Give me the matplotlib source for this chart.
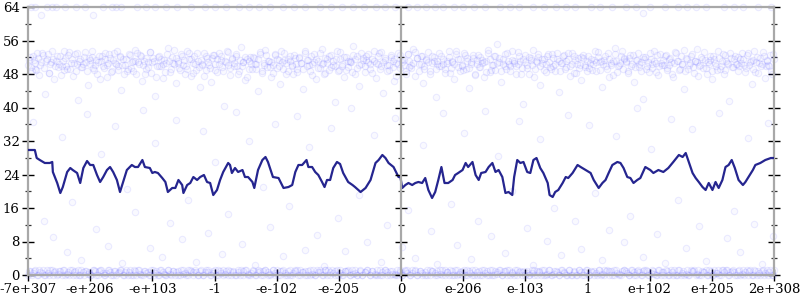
import matplotlib
matplotlib.use("Agg")
import matplotlib.pyplot as plt
import numpy as np
from matplotlib.ticker import MultipleLocator

# ---------------- data ----------------
tick_positions = [0, 100, 200, 300, 400, 500, 600, 700, 800, 900, 1000, 1100, 1200]
tick_labels = ["-7e+307", "-e+206", "-e+103", "-1", "-e-102", "-e-205", "0",
               "e-206", "e-103", "1", "e+102", "e+205", "2e+308"]

line_x = [0, 11, 14, 19, 27, 35, 39, 40, 47, 52, 56, 63, 68, 72, 79, 84, 89, 95, 100, 105,
          111, 116, 121, 127, 132, 137, 143, 148, 153, 159, 167, 172, 177, 184, 188, 196, 200, 204, 209, 216,
          221, 225, 232, 237, 242, 248, 250, 256, 261, 266, 272, 277, 283, 288, 293, 298, 304, 309, 314, 322,
          325, 328, 333, 338, 345, 349, 354, 361, 364, 370, 377, 382, 386, 394, 403, 411, 419, 425, 430, 435,
          441, 448, 451, 457, 462, 467, 473, 477, 481, 486, 491, 497, 502, 507, 515, 522, 526, 535, 543, 551,
          559, 564, 570, 575, 580, 588, 596, 599, 602, 607, 612, 618, 623, 628, 634, 639, 644, 650, 655, 660,
          665, 670, 676, 683, 687, 692, 699, 704, 708, 715, 720, 725, 729, 736, 741, 747, 752, 757, 763, 768,
          773, 779, 782, 787, 792, 797, 803, 808, 813, 818, 824, 829, 836, 839, 844, 848, 853, 860, 865, 869,
          876, 884, 889, 897, 905, 910, 918, 924, 929, 934, 940, 948, 953, 958, 964, 969, 974, 980, 985, 993,
          1001, 1006, 1014, 1022, 1030, 1038, 1047, 1053, 1058, 1063, 1069, 1074, 1079, 1085, 1090, 1095, 1101, 1106, 1111, 1117,
          1122, 1127, 1132, 1137, 1143, 1150, 1154, 1159, 1166, 1170, 1178, 1186, 1195, 1200]
line_y = [29.85, 29.85, 27.94, 27.46, 26.75, 26.75, 26.99, 24.60, 21.97, 19.58, 21.01, 24.60, 25.55, 25.07, 24.36, 21.97, 25.55, 27.22, 26.27, 26.27,
          23.88, 22.21, 23.40, 25.07, 25.79, 24.60, 22.69, 19.82, 22.21, 25.07, 26.27, 25.79, 25.79, 27.46, 25.79, 25.55, 24.36, 24.60, 24.36, 23.16,
          22.21, 19.82, 20.78, 20.78, 22.69, 21.49, 19.58, 21.49, 21.97, 23.40, 22.69, 23.40, 23.88, 22.21, 21.97, 19.10, 20.30, 22.69, 24.60, 26.75,
          26.27, 24.36, 25.55, 24.60, 25.07, 23.40, 23.40, 22.21, 20.78, 25.07, 27.46, 28.18, 26.99, 23.40, 23.16, 20.78, 21.01, 21.49, 24.60, 26.27,
          26.27, 27.46, 25.79, 25.79, 24.60, 23.88, 22.21, 21.01, 22.69, 22.69, 25.55, 26.99, 26.51, 24.36, 22.21, 21.49, 21.01, 19.82, 20.78, 22.69,
          26.75, 27.46, 28.66, 27.94, 26.75, 25.79, 23.40, 23.40, 20.78, 21.49, 21.97, 21.49, 21.97, 22.21, 21.97, 23.16, 20.30, 18.39, 19.82, 22.69,
          25.79, 21.97, 21.97, 22.69, 23.88, 24.36, 25.07, 26.75, 25.79, 26.99, 23.88, 22.69, 24.36, 24.60, 25.79, 26.75, 24.60, 25.07, 23.40, 19.58,
          19.82, 19.10, 23.40, 27.46, 26.75, 26.99, 24.60, 24.36, 27.46, 27.94, 25.55, 24.36, 21.97, 19.10, 18.63, 19.82, 20.30, 21.97, 23.40, 23.16,
          24.36, 26.27, 25.79, 25.07, 24.36, 22.69, 20.78, 21.97, 22.69, 24.36, 26.27, 26.99, 26.75, 25.55, 23.40, 23.16, 21.97, 22.69, 23.16, 25.79,
          25.07, 24.36, 25.07, 24.60, 25.55, 26.99, 28.66, 28.18, 29.13, 26.99, 24.36, 23.16, 22.21, 21.01, 20.30, 21.97, 20.30, 22.21, 20.78, 22.69,
          25.79, 26.27, 27.46, 25.55, 22.69, 21.49, 22.21, 23.40, 25.07, 26.27, 26.75, 27.46, 27.94, 27.94]

cloud_y = [
    50.2, 52.1, 48.7, 51.4, 49.3, 53.0, 47.8, 50.9, 52.6, 43.2, 51.7, 48.2, 50.5, 53.4, 46.9, 51.1, 49.6, 52.3, 50.0, 48.9,
    51.9, 49.1, 53.2, 50.7, 47.5, 52.8, 50.3, 41.8, 51.6, 49.7, 52.0, 50.8, 45.3, 51.3, 53.6, 49.4, 50.1, 48.0, 52.4, 51.0,
    49.8, 52.9, 47.2, 50.6, 51.8, 48.6, 53.1, 50.4, 49.0, 52.2, 44.1, 51.5, 50.2, 48.8, 52.7, 49.5, 51.2, 53.8, 47.9, 50.8,
    52.5, 46.4, 51.1, 49.2, 50.9, 53.3, 48.3, 51.9, 42.7, 50.0, 52.3, 49.9, 47.0, 51.4, 50.6, 54.1, 48.5, 52.0, 50.3, 45.8,
    51.2, 49.4, 52.8, 50.1, 48.1, 53.5, 51.6, 47.6, 50.7, 52.2, 49.0, 51.0, 44.9, 50.4, 53.0, 48.9, 51.8, 50.2, 46.2, 52.6,
    50.5, 48.4, 52.9, 51.3, 49.6, 40.3, 50.9, 53.2, 47.7, 51.5, 49.8, 52.4, 50.0, 48.6, 54.4, 50.8, 46.6, 51.7, 49.3, 52.1,
    49.1, 51.9, 50.3, 43.9, 52.7, 48.2, 50.6, 53.7, 49.7, 51.1, 47.3, 50.2, 52.5, 49.5, 51.4, 45.6, 50.9, 53.1, 48.0, 51.6,
    52.3, 50.1, 47.9, 51.8, 49.2, 52.0, 50.7, 44.5, 53.4, 49.9, 51.3, 48.7, 50.4, 52.8, 46.8, 51.0, 49.4, 53.9, 50.6, 48.3,
    51.5, 49.0, 52.6, 50.2, 41.2, 51.7, 48.8, 53.3, 50.0, 47.4, 52.1, 49.6, 51.2, 50.8, 54.6, 48.1, 52.4, 45.1, 50.5, 51.9,
    48.5, 52.2, 50.9, 49.3, 51.6, 53.6, 47.1, 50.3, 52.9, 49.8, 43.4, 51.4, 50.1, 48.9, 52.5, 51.1, 46.3, 50.7, 53.0, 49.5,
    50.8, 51.3, 48.0, 52.7, 49.7, 50.2, 54.0, 47.6, 51.8, 50.4, 52.3, 45.9, 49.1, 51.5, 53.2, 48.6, 50.6, 52.0, 42.4, 51.0,
    49.9, 52.4, 50.5, 48.2, 51.1, 53.5, 49.4, 50.9, 46.7, 52.8, 51.6, 48.8, 50.0, 53.1, 49.2, 51.9, 44.7, 50.3, 52.6, 47.8,
    51.4, 49.6, 52.1, 50.7, 47.3, 51.2, 53.7, 48.4, 50.1, 52.2, 49.0, 55.1, 50.8, 46.1, 51.7, 49.8, 52.9, 50.4, 48.7, 51.3,
    50.6, 48.1, 53.3, 51.0, 49.5, 40.9, 52.5, 50.2, 47.9, 51.8, 53.8, 49.3, 50.9, 52.0, 45.4, 51.5, 48.9, 50.3, 52.7, 49.7,
    52.8, 50.0, 48.6, 51.6, 43.6, 50.7, 52.3, 49.1, 51.1, 53.0, 47.5, 50.5, 52.4, 48.3, 51.9, 50.1, 46.5, 52.6, 49.6, 51.2,
    49.4, 51.7, 50.3, 53.4, 48.8, 52.0, 50.8, 45.0, 51.4, 49.9, 52.9, 47.2, 50.6, 51.0, 54.3, 48.5, 50.2, 52.2, 49.2, 51.8,
    51.1, 48.7, 52.5, 50.4, 46.0, 51.3, 53.1, 49.7, 50.9, 42.1, 52.1, 50.0, 48.4, 51.6, 49.5, 53.5, 50.7, 47.7, 52.8, 50.2,
    50.1, 52.6, 49.0, 51.5, 50.8, 47.4, 53.2, 51.0, 48.9, 52.3, 50.5, 44.3, 51.9, 49.3, 50.6, 52.7, 48.2, 51.2, 53.9, 49.8,
    52.0, 49.5, 51.4, 48.0, 50.3, 52.4, 46.7, 51.7, 50.0, 53.6, 49.1, 51.1, 47.9, 52.5, 50.7, 41.5, 51.8, 49.7, 52.2, 50.4,
    48.8, 51.6, 53.0, 50.2, 49.4, 52.9, 50.9, 45.7, 51.3, 48.5, 52.1, 50.6, 49.9, 53.3, 47.0, 51.0, 50.1, 52.6, 48.1, 51.5,
]

cloud2_y = [
    51.3, 49.7, 52.4, 50.6, 48.9, 51.8, 50.2, 53.1, 49.4, 51.0, 52.7, 48.3, 50.8, 51.6, 49.9, 52.2, 50.4, 47.8, 51.2, 53.4,
    50.0, 52.6, 49.2, 51.5, 50.7, 48.6, 52.9, 51.1, 49.6, 50.3, 53.2, 48.8, 51.9, 50.5, 52.0, 49.0, 51.4, 50.9, 46.8, 52.3,
    49.5, 51.7, 50.1, 52.8, 48.4, 51.3, 50.6, 53.5, 49.8, 52.1, 50.2, 47.9, 51.6, 49.3, 52.5, 50.8, 48.7, 51.0, 53.0, 50.4,
    52.4, 50.2, 48.1, 51.9, 49.6, 53.3, 50.9, 51.2, 47.4, 52.0, 49.9, 51.5, 50.3, 48.5, 52.7, 51.1, 49.1, 50.6, 53.7, 51.8,
    50.7, 48.9, 52.2, 51.4, 50.0, 49.2, 53.0, 51.7, 48.2, 50.5, 52.9, 49.7, 51.3, 50.1, 47.6, 52.4, 50.8, 49.4, 51.9, 52.6,
    49.0, 51.6, 50.4, 52.3, 48.7, 51.1, 53.4, 50.2, 49.5, 51.8, 50.6, 52.8, 48.0, 51.4, 49.8, 50.9, 52.1, 47.2, 51.0, 50.3,
    52.0, 50.5, 49.3, 51.7, 53.2, 48.6, 50.1, 52.5, 51.2, 49.6, 50.8, 48.3, 52.7, 51.5, 50.0, 53.6, 49.1, 51.3, 50.7, 48.8,
    51.1, 49.9, 52.6, 50.3, 48.5, 51.9, 50.6, 49.2, 53.1, 51.4, 50.2, 52.2, 47.7, 50.9, 51.6, 49.4, 52.9, 50.4, 48.1, 51.8,
    50.6, 52.4, 49.7, 51.0, 50.0, 53.5, 48.9, 51.5, 50.3, 52.1, 49.0, 51.2, 50.8, 48.4, 52.6, 51.7, 49.5, 50.1, 53.0, 51.3,
    49.8, 51.4, 52.8, 50.5, 48.2, 51.1, 50.7, 52.3, 49.3, 53.3, 50.9, 51.8, 48.7, 50.2, 52.0, 49.6, 51.5, 47.5, 50.4, 52.5,
    51.6, 50.1, 48.8, 52.7, 51.0, 49.4, 50.6, 53.2, 51.9, 48.6, 50.3, 52.2, 49.9, 51.3, 50.8, 47.9, 52.4, 51.1, 49.2, 50.5,
    52.9, 50.0, 51.7, 49.1, 50.7, 52.1, 48.3, 51.2, 50.4, 53.4, 49.7, 51.5, 50.2, 48.9, 52.6, 51.0, 49.5, 50.9, 51.8, 48.0,
    50.3, 52.5, 49.6, 51.3, 50.8, 48.4, 53.1, 51.6, 49.0, 50.1, 52.3, 50.6, 51.9, 48.7, 50.4, 52.8, 49.3, 51.1, 50.0, 53.6,
    51.2, 49.8, 50.5, 52.4, 48.1, 51.7, 50.9, 49.4, 52.0, 51.4, 50.2, 47.3, 51.0, 52.7, 49.9, 50.6, 51.5, 48.5, 52.2, 50.8,
    49.2, 51.9, 50.3, 53.0, 51.1, 48.8, 50.7, 52.6, 49.7, 51.6, 50.0, 52.9, 48.2, 51.3, 50.4, 49.5, 52.1, 51.8, 50.1, 48.6,
    52.3, 50.6, 49.0, 51.4, 50.9, 53.3, 48.9, 51.0, 50.5, 52.4, 49.3, 51.7, 50.2, 47.8, 52.8, 51.2, 49.8, 50.7, 53.5, 51.5,
    50.8, 48.3, 51.8, 50.0, 52.5, 49.6, 51.3, 50.4, 48.7, 52.0, 51.6, 49.1, 50.9, 53.1, 50.3, 51.1, 48.4, 52.6, 49.9, 50.6,
    51.4, 52.2, 49.5, 50.1, 51.9, 48.0, 50.7, 52.9, 51.0, 49.2, 50.5, 53.7, 48.8, 51.5, 50.2, 52.3, 49.7, 51.2, 50.8, 47.6,
    50.2, 51.7, 53.2, 49.4, 50.9, 51.3, 48.6, 52.4, 50.6, 49.0, 51.8, 50.0, 52.7, 48.9, 51.1, 50.4, 53.0, 49.6, 51.6, 50.3,
    52.1, 49.9, 50.7, 51.5, 48.5, 52.6, 50.1, 51.0, 49.3, 53.4, 50.8, 48.2, 51.9, 50.5, 52.2, 49.8, 51.4, 50.0, 48.7, 52.8,
]

low_y = [
    0, 1.0, 0.4, 1.2, 0, 0.8, 1.1, 0, 0.5, 1.3, 0, 1.0, 0.2, 0.9, 1.2, 0, 0.6, 1.1, 0, 1.0,
    1.2, 0, 0.7, 1.0, 0.3, 0, 1.3, 0.9, 0, 1.1, 0.5, 0, 1.2, 0.8, 0, 1.0, 0.4, 1.3, 0, 0.6,
    0, 1.1, 0, 0.9, 1.2, 0.2, 0, 1.0, 0.7, 0, 1.3, 0.5, 0, 1.1, 0.8, 0, 1.2, 0.3, 1.0, 0,
    0.9, 0, 1.2, 0.4, 0, 1.1, 0.6, 1.3, 0, 1.0, 0, 0.8, 1.2, 0, 0.5, 1.1, 0, 0.9, 1.3, 0.2,
    0, 1.0, 0.7, 0, 1.2, 0, 0.9, 1.1, 0.3, 0, 1.3, 0, 0.6, 1.0, 0, 1.2, 0.8, 0, 1.1, 0.4,
    1.3, 0, 1.0, 0.5, 0, 1.1, 0, 0.9, 1.2, 0, 0.7, 1.0, 0, 1.3, 0.2, 0, 1.1, 0.6, 0, 1.2,
    0, 0.8, 1.1, 0, 1.3, 0.4, 0, 1.0, 0.9, 0, 1.2, 0.5, 0, 1.1, 0, 0.7, 1.3, 0, 1.0, 0.3,
    1.1, 0, 0.6, 1.2, 0, 1.0, 0.2, 0, 1.3, 0.8, 0, 1.1, 0.4, 0, 1.2, 0.9, 0, 1.0, 0.5, 0,
    0, 1.2, 0.9, 0, 1.0, 0.3, 1.3, 0, 0.7, 1.1, 0, 1.2, 0, 0.6, 1.0, 0, 1.3, 0.4, 0, 1.1,
    0.8, 0, 1.3, 0.5, 0, 1.1, 0, 1.0, 0.2, 1.2, 0, 0.9, 1.1, 0, 0.6, 1.3, 0, 1.0, 0.7, 0,
    1.0, 0, 0.5, 1.3, 0, 0.9, 1.1, 0, 0.3, 1.2, 0, 1.0, 0.8, 0, 1.1, 0.4, 0, 1.3, 0, 0.7,
    0, 1.1, 0, 0.8, 1.2, 0, 0.6, 1.0, 0, 1.3, 0.2, 0, 1.1, 0.9, 0, 1.2, 0.5, 0, 1.0, 1.3,
    0.4, 0, 1.2, 0, 1.0, 0.7, 0, 1.3, 0.9, 0, 1.1, 0.3, 0, 1.2, 0.6, 0, 1.0, 0, 0.8, 1.1,
    0, 1.3, 0.5, 0, 1.1, 0, 0.9, 1.2, 0.2, 0, 1.0, 0.7, 0, 1.3, 0, 1.1, 0.4, 0, 1.2, 0.8,
    1.2, 0, 1.0, 0.6, 0, 1.3, 0.3, 0, 1.1, 0.9, 0, 1.2, 0, 0.5, 1.0, 0, 1.3, 0.8, 0, 1.1,
]

low2_y = [
    1.0, 0, 0.9, 0, 1.2, 0.5, 0, 1.1, 0, 1.3, 0.7, 0, 1.0, 0, 1.2, 0.3, 0, 1.1, 0.8, 0,
    0, 1.2, 0, 1.0, 0.6, 0, 1.3, 0, 0.9, 1.1, 0, 0.4, 1.2, 0, 1.0, 0, 0.7, 1.3, 0, 1.1,
    0.8, 0, 1.1, 0, 1.3, 0, 1.0, 0.5, 0, 1.2, 0, 0.9, 0, 1.1, 0.2, 0, 1.3, 0, 1.0, 0.6,
    0, 1.1, 0.3, 0, 1.2, 1.0, 0, 0.8, 0, 1.3, 0, 1.1, 0.6, 0, 1.0, 0, 1.2, 0.4, 0, 0.9,
    1.3, 0, 1.0, 0, 0.7, 1.2, 0, 1.1, 0, 0.5, 1.0, 0, 1.3, 0, 0.9, 1.1, 0, 0.2, 1.2, 0,
    0, 0.9, 1.2, 0, 1.0, 0, 0.4, 1.3, 0, 1.1, 0.8, 0, 1.0, 0, 1.2, 0, 0.6, 1.1, 0, 1.3,
    1.1, 0, 0.5, 1.0, 0, 1.2, 0, 0.9, 1.3, 0, 0.3, 1.1, 0, 1.0, 0, 0.7, 1.2, 0, 1.0, 0,
    0, 1.3, 0, 1.1, 0.6, 0, 1.0, 0.2, 0, 1.2, 0, 0.9, 1.1, 0, 0.5, 1.3, 0, 1.0, 0, 0.8,
    1.2, 0, 1.0, 0.4, 0, 1.1, 0, 1.3, 0.7, 0, 1.0, 0, 1.2, 0.3, 0, 1.1, 0, 0.9, 1.3, 0,
    0, 1.0, 0, 1.2, 0.9, 0, 1.1, 0, 0.6, 1.3, 0, 1.0, 0, 1.2, 0.4, 0, 1.1, 0.8, 0, 1.0,
    0.5, 0, 1.3, 0, 1.0, 0.8, 0, 1.2, 0, 1.1, 0, 0.3, 1.0, 0, 1.3, 0.6, 0, 1.2, 0, 0.9,
    0, 1.1, 0.7, 0, 1.2, 0, 1.0, 0, 0.4, 1.3, 0, 1.1, 0.9, 0, 1.0, 0, 1.2, 0.2, 0, 1.3,
    1.0, 0, 1.2, 0.6, 0, 1.1, 0, 0.9, 1.3, 0, 0.5, 1.0, 0, 1.2, 0, 0.8, 1.1, 0, 1.3, 0,
    0, 1.2, 0, 1.0, 0.3, 0, 1.3, 0.9, 0, 1.1, 0, 0.7, 1.2, 0, 1.0, 0, 0.5, 1.1, 0, 1.2,
    1.1, 0, 0.8, 1.3, 0, 1.0, 0, 1.2, 0.6, 0, 1.1, 0, 0.9, 1.0, 0, 1.3, 0.4, 0, 1.2, 0,
]

top_x = [5, 12, 21, 30, 38, 45, 60, 78, 92, 105, 120, 135, 142, 150, 175, 190, 205, 222, 240, 262,
         285, 300, 318, 340, 355, 372, 390, 410, 428, 445, 470, 488, 505, 522, 540, 560, 575, 590, 612, 625,
         640, 655, 668, 685, 700, 718, 735, 760, 775, 790, 812, 830, 850, 865, 880, 905, 920, 940, 962, 978,
         990, 1000, 1025, 1045, 1060, 1075, 1090, 1120, 1135, 1150, 1175, 1195]
top_y = [64, 64, 62.1, 64, 64, 64, 64, 64, 64, 62.0, 64, 64, 64, 64, 64, 64, 64, 64, 64, 64,
         64, 64, 64, 64, 64, 64, 64, 64, 64, 64, 64, 64, 64, 64, 64, 64, 64, 64, 64, 64,
         64, 64, 64, 64, 64, 64, 64, 64, 64, 64, 64, 64, 64, 64, 64, 64, 64, 64, 64, 64,
         62.5, 64, 64, 64, 64, 64, 64, 64, 64, 64, 64, 64]

sparse_x = [8, 25, 40, 55, 62, 70, 85, 95, 110, 118, 128, 140, 152, 160, 172, 185, 196, 205, 215, 228,
            238, 248, 258, 270, 282, 290, 300, 312, 322, 335, 345, 356, 365, 378, 390, 398, 410, 420, 432, 445,
            452, 465, 476, 488, 498, 510, 520, 532, 545, 556, 568, 578, 590, 602, 612, 622, 635, 648, 658, 668,
            680, 690, 702, 712, 724, 735, 745, 756, 768, 778, 790, 802, 812, 824, 835, 846, 858, 868, 880, 890,
            902, 912, 924, 935, 946, 958, 968, 980, 990, 1002, 1012, 1024, 1035, 1046, 1058, 1068, 1080, 1090, 1102, 1112,
            1124, 1135, 1146, 1158, 1168, 1180, 1190, 1198]
sparse_y = [36.5, 13.0, 9.0, 33.0, 5.5, 17.5, 3.5, 38.5, 11.0, 29.0, 7.0, 35.5, 2.8, 20.5, 15.0, 39.5, 6.5, 31.5, 4.2, 12.5,
            37.0, 8.5, 18.0, 3.0, 34.5, 10.0, 27.0, 5.0, 14.5, 39.0, 7.5, 32.0, 2.5, 21.0, 11.5, 36.0, 4.5, 16.5, 38.0, 6.0,
            30.5, 9.5, 2.2, 35.0, 13.5, 5.8, 40.0, 19.0, 8.0, 33.5, 3.2, 12.0, 37.5, 6.8, 15.5, 4.0, 31.0, 10.5, 2.6, 38.8,
            17.0, 7.2, 34.0, 3.8, 13.0, 39.2, 9.2, 28.5, 5.2, 20.0, 36.8, 11.2, 2.4, 32.5, 8.2, 16.0, 4.8, 38.2, 12.8, 6.2,
            35.8, 19.5, 3.6, 10.8, 33.2, 7.8, 14.0, 39.8, 4.4, 30.0, 9.8, 2.9, 37.2, 17.8, 6.4, 34.8, 11.8, 3.4, 21.5, 38.6,
            8.8, 15.2, 5.4, 32.8, 12.2, 2.7, 36.2, 9.4]

# ---------------- figure ----------------
plt.rcParams['font.family'] = ['DejaVu Serif']
fig = plt.figure(figsize=(8, 3), dpi=100)
rect = [28 / 800, 25 / 300, 746 / 800, 268 / 300]
ax = fig.add_axes(rect)

xmin, xmax = tick_positions[0], tick_positions[-1]
ax.set_xlim(xmin, xmax)
ax.set_ylim(0, 64)

edge = (0.35, 0.35, 1.0, 0.11)
face = (0.35, 0.35, 1.0, 0.03)
mk = dict(linestyle='none', marker='o', markersize=4.6, markeredgewidth=0.8,
          markeredgecolor=edge, markerfacecolor=face, clip_on=False, zorder=2)

ax.plot(np.linspace(xmin, xmax, len(cloud_y)), cloud_y, **mk)
ax.plot(np.linspace(xmin + 1.5, xmax - 1.5, len(cloud2_y)), cloud2_y, **mk)
ax.plot(np.linspace(xmin, xmax, len(low_y)), low_y, **mk)
ax.plot(np.linspace(xmin + 2, xmax - 2, len(low2_y)), low2_y, **mk)
n = min(len(top_x), len(top_y))
ax.plot(top_x[:n], top_y[:n], **mk)
n = min(len(sparse_x), len(sparse_y))
ax.plot(sparse_x[:n], sparse_y[:n], **mk)

n = min(len(line_x), len(line_y))
ax.plot(line_x[:n], line_y[:n], color='#25258f', linewidth=1.6, zorder=4,
        solid_joinstyle='round')

gray = '#a8a8a8'
for s in ax.spines.values():
    s.set_color(gray)
    s.set_linewidth(1.6)

ax.set_xticks(tick_positions)
ax.set_xticklabels(tick_labels)
ax.yaxis.set_major_locator(MultipleLocator(8))
ax.yaxis.set_minor_locator(MultipleLocator(4))
ax.tick_params(axis='both', which='major', direction='inout', length=8, width=1.0,
               color='black', labelsize=9.5, pad=2)
ax.tick_params(axis='y', which='both', right=True, direction='inout')
ax.tick_params(axis='y', which='minor', length=4, width=0.9, color='#333333')
ax.tick_params(axis='x', which='major', length=8)

# middle axis at x = 0 (tick position 600)
ax2 = fig.add_axes(rect, sharey=ax)
ax2.set_xlim(xmin, xmax)
ax2.patch.set_visible(False)
for k in ['top', 'right', 'bottom']:
    ax2.spines[k].set_visible(False)
ax2.spines['left'].set_position(('data', tick_positions[6]))
ax2.spines['left'].set_color(gray)
ax2.spines['left'].set_linewidth(1.6)
ax2.set_xticks([])
ax2.tick_params(axis='y', which='both', direction='inout', labelleft=False, color='black')
ax2.tick_params(axis='y', which='major', length=8, width=1.0)
ax2.tick_params(axis='y', which='minor', length=4, width=0.9, color='#333333')

fig.savefig('out.png', dpi=100)
